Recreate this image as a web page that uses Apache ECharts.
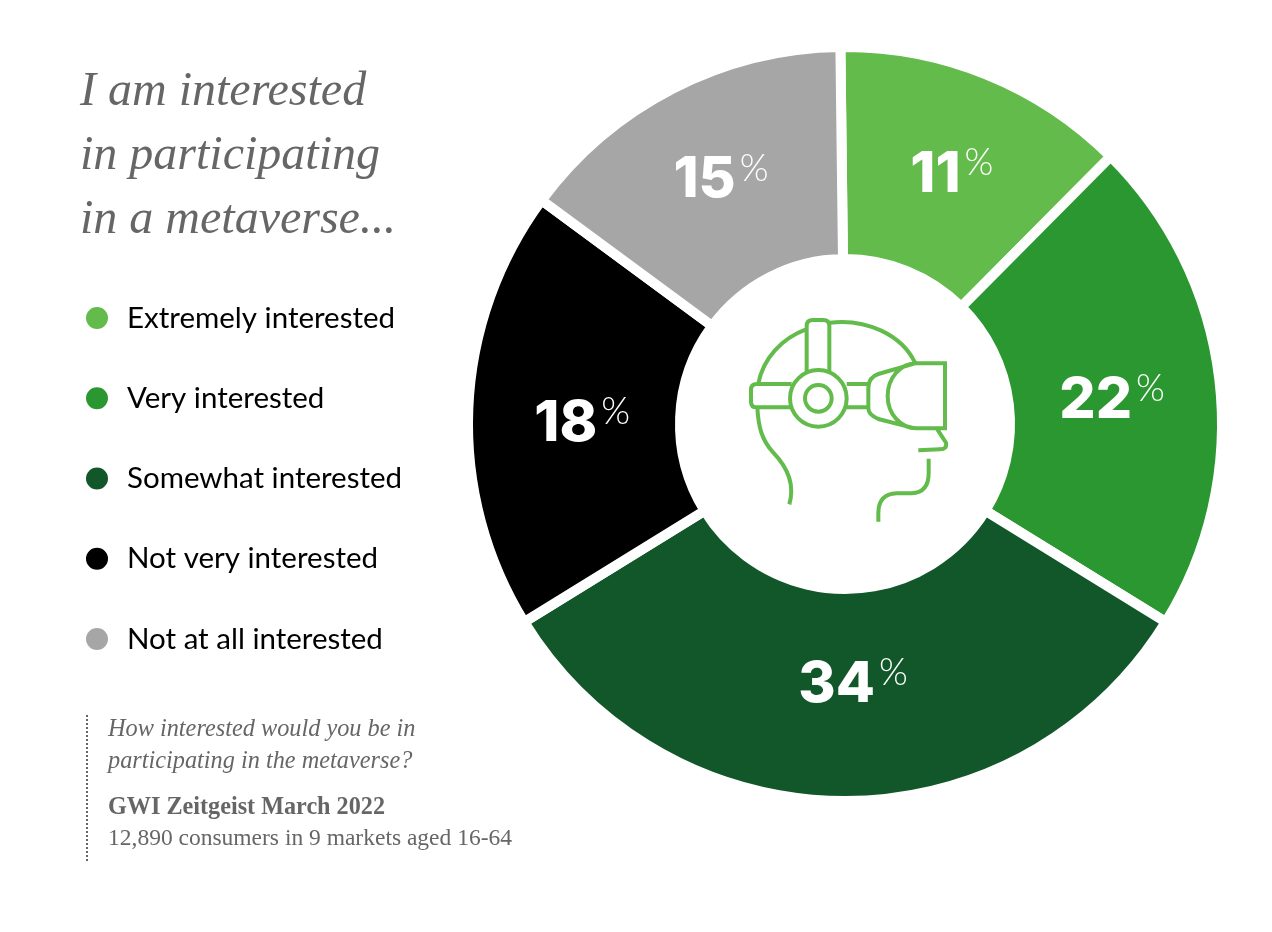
<!DOCTYPE html>
<html>
<head>
<meta charset="utf-8">
<style>
  html, body { margin: 0; padding: 0; background: #fff; }
  #chart { width: 1272px; height: 932px; }
</style>
<script src="https://cdn.jsdelivr.net/npm/echarts@6/dist/echarts.min.js"></script>
</head>
<body>
<div id="chart"></div>
<script>
var categories = ['Extremely interested', 'Very interested', 'Somewhat interested', 'Not very interested', 'Not at all interested'];
// printed percentages
var percentLabels = [11, 22, 34, 18, 15];
// the slices in the picture are not quite proportional to the printed numbers,
// so the sweep of each one is read off separately (degrees)
var sliceSweeps = [45.5, 76.9, 116.6, 68.1, 52.9];
var colors = ['#62bb4a', '#2b9730', '#115729', '#000000', '#a6a6a6'];

var grey = '#666666';
var serif = '"Liberation Serif", serif';
var green = colors[0];

// nudges from the ring's midline, the labels aren't quite centred in the original
var labelNudges = [[4, 5], [-5, 9], [8, -13], [11, 11], [1, 0]];

// headset icon, drawn at 3x and scaled down in the group below
var iconPath = [
    'M85 250 C100 175 155 115 228 88',
    'M300 68 C410 55 515 105 555 188',
    'M230 215 V78 Q230 60 248 60 H280 Q298 60 298 78 V215',
    'M185 252 H80 Q63 252 63 270 V305 Q63 322 80 322 H185',
    'M350 252 H415 M350 322 H415',
    'M555 190 L445 222 Q415 232 415 265 V325 Q415 345 445 357 L555 385',
    'M645 190 H560 C510 190 473 235 473 288 C473 340 510 385 560 385 H645 Z',
    'M622 388 L648 428 Q652 448 630 448 L565 451',
    'M596 476 V520 Q596 578 545 580 H500 Q445 582 445 640 V665',
    'M82 322 C85 380 95 420 130 458 C175 505 195 555 178 613'
].join(' ');
var iconStyle = { fill: 'none', stroke: green, lineWidth: 12 };

echarts.graphic.registerShape('vrHeadset', echarts.graphic.extendPath(iconPath, {}));

var myChart = echarts.init(document.getElementById('chart'));

myChart.setOption({
    animation: false,
    backgroundColor: '#fff',
    color: colors,
    title: [
        {
            text: 'I am interested\nin participating\nin a metaverse...',
            left: 80, top: 60, padding: 0,
            textStyle: { fontFamily: serif, fontStyle: 'italic', fontWeight: 'normal', fontSize: 48, lineHeight: 64, color: grey }
        },
        {
            text: 'How interested would you be in\nparticipating in the metaverse?',
            left: 108, top: 714, padding: 0,
            textStyle: { fontFamily: serif, fontStyle: 'italic', fontWeight: 'normal', fontSize: 24.3, lineHeight: 32, color: grey }
        },
        {
            text: 'GWI Zeitgeist March 2022',
            left: 108, top: 795, padding: 0,
            textStyle: { fontFamily: serif, fontWeight: 'bold', fontSize: 24.2, lineHeight: 26, color: grey }
        },
        {
            text: '12,890 consumers in 9 markets aged 16-64',
            left: 108, top: 826, padding: 0,
            textStyle: { fontFamily: serif, fontWeight: 'normal', fontSize: 23.5, lineHeight: 26, color: grey }
        }
    ],
    legend: {
        orient: 'vertical',
        left: 84, top: 303, padding: 0,
        icon: 'circle',
        itemWidth: 24, itemHeight: 24,
        itemGap: 50.25,
        selectedMode: false,
        textStyle: { fontFamily: 'Lato', fontSize: 29.5, lineHeight: 24, color: '#000', padding: [0, 0, 0, 13] },
        data: categories
    },
    series: [{
        type: 'pie',
        center: [845, 424],
        radius: [165, 377],
        startAngle: 90.7,
        clockwise: true,
        silent: true,
        itemStyle: { borderColor: '#fff', borderWidth: 10 },
        labelLine: { show: false },
        label: {
            show: true,
            position: 'inside',
            formatter: function (p) {
                return '{num|' + percentLabels[p.dataIndex] + '}{pct|%}';
            },
            rich: {
                num: { fontFamily: 'Inter', fontWeight: 800, fontSize: 57, lineHeight: 60, color: '#fff' },
                pct: { fontFamily: 'Lato', fontWeight: 300, fontSize: 37, lineHeight: 34, color: '#fff', verticalAlign: 'top', padding: [0, 0, 0, 4] }
            }
        },
        data: categories.map(function (name, i) {
            return { name: name, value: sliceSweeps[i], label: { offset: labelNudges[i] } };
        })
    }],
    graphic: [
        {
            type: 'line',
            shape: { x1: 87, y1: 715, x2: 87, y2: 861 },
            style: { stroke: grey, lineWidth: 2, lineDash: [2, 2] }
        },
        {
            type: 'group',
            x: 730, y: 300,
            scaleX: 1 / 3, scaleY: 1 / 3,
            children: [
                { type: 'vrHeadset', style: iconStyle },
                { type: 'circle', shape: { cx: 265, cy: 295, r: 85 }, style: iconStyle },
                { type: 'circle', shape: { cx: 265, cy: 295, r: 40 }, style: iconStyle }
            ]
        }
    ]
});
</script>
</body>
</html>
